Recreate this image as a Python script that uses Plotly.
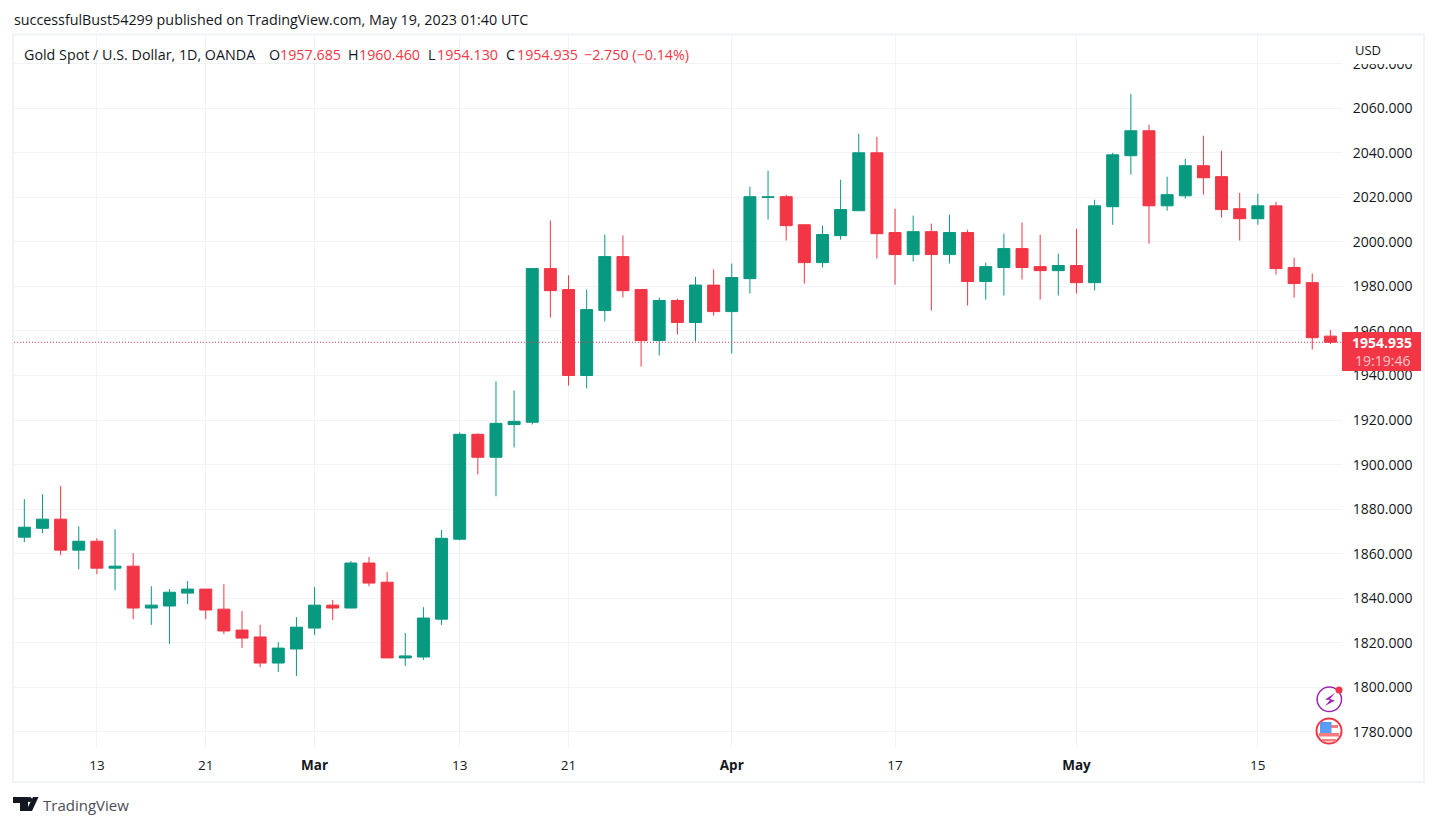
import plotly.graph_objects as go

W = 1437
H = 826

dates = ["2023-02-07", "2023-02-08", "2023-02-09", "2023-02-10", "2023-02-13", "2023-02-14", "2023-02-15", "2023-02-16",
         "2023-02-17", "2023-02-20", "2023-02-21", "2023-02-22", "2023-02-23", "2023-02-24", "2023-02-27", "2023-02-28",
         "2023-03-01", "2023-03-02", "2023-03-03", "2023-03-06", "2023-03-07", "2023-03-08", "2023-03-09", "2023-03-10",
         "2023-03-13", "2023-03-14", "2023-03-15", "2023-03-16", "2023-03-17", "2023-03-20", "2023-03-21", "2023-03-22",
         "2023-03-23", "2023-03-24", "2023-03-27", "2023-03-28", "2023-03-29", "2023-03-30", "2023-03-31", "2023-04-03",
         "2023-04-04", "2023-04-05", "2023-04-06", "2023-04-10", "2023-04-11", "2023-04-12", "2023-04-13", "2023-04-14",
         "2023-04-17", "2023-04-18", "2023-04-19", "2023-04-20", "2023-04-21", "2023-04-24", "2023-04-25", "2023-04-26",
         "2023-04-27", "2023-04-28", "2023-05-01", "2023-05-02", "2023-05-03", "2023-05-04", "2023-05-05", "2023-05-08",
         "2023-05-09", "2023-05-10", "2023-05-11", "2023-05-12", "2023-05-15", "2023-05-16", "2023-05-17", "2023-05-18",
         "2023-05-19"]

opens = [1867.4, 1871.4, 1875.5, 1861.6, 1865.6, 1853.5, 1854.4, 1835.6,
         1836.5, 1842.3, 1844.1, 1835.1, 1825.7, 1822.6, 1810.9, 1817.2,
         1826.6, 1836.9, 1835.6, 1855.8, 1847.2, 1813.2, 1813.6, 1830.6,
         1866.5, 1913.6, 1903.3, 1918.0, 1919.0, 1988.0, 1978.6, 1940.0,
         1969.2, 1993.4, 1978.6, 1955.7, 1973.7, 1963.8, 1980.6, 1968.7,
         1983.5, 2020.0, 2020.3, 2007.7, 1990.7, 2002.8, 2014.0, 2040.0,
         2004.2, 1994.3, 2004.6, 1994.3, 2004.2, 1982.2, 1988.5, 1997.0,
         1988.9, 1987.1, 1989.4, 1981.7, 2015.8, 2038.7, 2049.9, 2016.2,
         2020.7, 2034.2, 2029.3, 2014.9, 2010.4, 2016.2, 1988.5, 1981.7,
         1957.685]
highs = [1884.5, 1886.7, 1890.3, 1872.3, 1867.0, 1871.0, 1860.2, 1845.4,
         1844.1, 1847.7, 1844.1, 1846.3, 1834.2, 1828.0, 1820.3, 1831.5,
         1845.0, 1839.2, 1856.7, 1858.5, 1851.7, 1824.4, 1836.0, 1870.6,
         1914.5, 1914.0, 1937.3, 1933.3, 1988.0, 2009.6, 1985.0, 1978.6,
         2003.3, 2002.9, 1978.6, 1975.0, 1974.5, 1984.3, 1987.6, 1990.3,
         2024.8, 2032.0, 2021.2, 2007.7, 2007.3, 2027.9, 2048.6, 2047.2,
         2014.9, 2011.8, 2008.2, 2012.2, 2005.5, 1990.7, 2003.7, 2008.7,
         2003.2, 1994.7, 2005.9, 2018.9, 2040.0, 2066.5, 2052.6, 2029.3,
         2037.3, 2047.7, 2040.9, 2022.0, 2021.6, 2018.0, 1992.9, 1985.8,
         1960.46]
lows = [1865.2, 1869.2, 1859.3, 1853.1, 1850.8, 1843.6, 1830.6, 1828.0,
        1819.4, 1837.4, 1830.6, 1823.9, 1817.6, 1809.1, 1806.9, 1805.1,
        1823.5, 1830.2, 1835.6, 1845.4, 1813.2, 1809.6, 1812.3, 1828.0,
        1866.0, 1895.6, 1885.8, 1907.7, 1918.0, 1966.0, 1935.5, 1934.2,
        1964.3, 1975.0, 1944.0, 1949.0, 1958.4, 1955.3, 1966.9, 1949.9,
        1976.8, 2010.0, 2000.6, 1981.3, 1988.5, 2001.0, 2014.0, 1992.5,
        1980.8, 1991.2, 1969.2, 1990.3, 1971.4, 1974.1, 1975.9, 1983.1,
        1974.1, 1975.9, 1976.8, 1978.2, 2007.7, 2030.2, 1999.2, 2014.0,
        2019.4, 2021.2, 2010.9, 2000.6, 2007.7, 1985.3, 1975.0, 1951.7,
        1954.13]
closes = [1871.9, 1875.5, 1861.6, 1865.6, 1853.5, 1854.4, 1835.6, 1836.9,
          1842.7, 1844.1, 1834.7, 1825.3, 1822.1, 1810.9, 1817.6, 1827.0,
          1836.9, 1835.6, 1855.8, 1846.8, 1813.2, 1814.1, 1831.1, 1866.9,
          1913.6, 1903.3, 1918.5, 1919.4, 1988.0, 1978.1, 1940.0, 1969.6,
          1993.4, 1978.1, 1955.7, 1973.7, 1963.8, 1980.6, 1968.7, 1984.0,
          2020.3, 2020.2, 2007.3, 1990.7, 2003.3, 2014.5, 2040.0, 2003.7,
          1994.3, 2004.6, 1994.3, 2004.2, 1982.2, 1988.9, 1997.0, 1988.5,
          1987.1, 1989.4, 1981.7, 2016.2, 2039.1, 2049.9, 2016.2, 2021.2,
          2034.2, 2028.8, 2014.5, 2010.4, 2016.2, 1988.0, 1981.3, 1957.0,
          1954.935]

tick_dates = ["2023-02-13", "2023-02-21", "2023-03-01", "2023-03-13", "2023-03-21", "2023-04-03", "2023-04-17", "2023-05-01", "2023-05-15"]
tick_labels = ["13", "21", "<b>Mar</b>", "13", "21", "<b>Apr</b>", "17", "<b>May</b>", "15"]
price_ticks = [1780, 1800, 1820, 1840, 1860, 1880, 1900, 1920, 1940, 1960, 1980, 2000, 2020, 2040, 2060, 2080]

GREEN = "#089981"
RED = "#F23645"
GRID = "#F0F3FA"
TEXT = "#131722"
FONT = "Open Sans"


# all the furniture is placed in page pixels, on paper coordinates
def px(x):
    return x / W


def py(y):
    return 1 - y / H


def label(x, y, text, color=TEXT, size=14.3, anchor="left", opacity=1):
    fig.add_annotation(x=px(x), y=py(y), xref="paper", yref="paper", text=text, showarrow=False,
                       xanchor=anchor, yanchor="middle", borderpad=0, opacity=opacity,
                       font=dict(family=FONT, size=size, color=color))


def box(x0, y0, x1, y1, fill, line=None, width=0):
    fig.add_shape(type="rect", xref="paper", yref="paper", x0=px(x0), x1=px(x1), y0=py(y0), y1=py(y1),
                  fillcolor=fill, line=dict(color=line, width=width) if line else dict(width=0), layer="above")


def circle(cx, cy, r, fill, line=None, width=0):
    fig.add_shape(type="circle", xref="paper", yref="paper", x0=px(cx - r), x1=px(cx + r), y0=py(cy - r), y1=py(cy + r),
                  fillcolor=fill, line=dict(color=line, width=width) if line else dict(width=0), layer="above")


def poly(points, fill):
    path = "M " + " L ".join(f"{px(x):.5f},{py(y):.5f}" for x, y in points) + " Z"
    fig.add_shape(type="path", xref="paper", yref="paper", path=path, fillcolor=fill, line=dict(width=0), layer="above")


fig = go.Figure()

fig.add_trace(go.Candlestick(
    x=dates,
    open=opens,
    high=highs,
    low=lows,
    close=closes,
    whiskerwidth=0,
    increasing=dict(line=dict(color=GREEN, width=1), fillcolor=GREEN),
    decreasing=dict(line=dict(color=RED, width=1), fillcolor=RED),
))

fig.update_layout(
    width=W,
    height=H,
    margin=dict(l=0, r=0, t=0, b=0),
    paper_bgcolor="white",
    plot_bgcolor="white",
    showlegend=False,
    boxgap=0.34,
    boxgroupgap=0,
    font=dict(family=FONT, size=14, color=TEXT),
    xaxis=dict(
        type="category",
        domain=[px(14), px(1342)],
        range=[-0.57, 72.64],
        categoryorder="array",
        categoryarray=dates,
        rangeslider=dict(visible=False),
        tickmode="array",
        tickvals=tick_dates,
        ticktext=tick_labels,
        tickfont=dict(size=13.5),
        showgrid=True,
        gridcolor=GRID,
        gridwidth=1,
        zeroline=False,
        showline=False,
        ticks="outside",
        ticklen=6,
        tickcolor="white",
        tickangle=0,
    ),
    yaxis=dict(
        side="right",
        domain=[py(747), py(35)],
        range=[1773.2, 2092.9],
        tickmode="array",
        tickvals=price_ticks,
        tickformat=".3f",
        showgrid=True,
        gridcolor=GRID,
        gridwidth=1,
        zeroline=False,
        showline=False,
        ticks="outside",
        ticklen=7,
        tickcolor="white",
    ),
)

# last price line
fig.add_shape(type="line", xref="paper", yref="y", x0=px(14), x1=px(1342), y0=closes[-1], y1=closes[-1],
              line=dict(color=RED, width=1, dash="1px,2px"), layer="above")

# frame, and the white strip that cuts the top price label
box(1343, 36, 1423, 64, "white")
box(13, 34.5, 1424, 782, "rgba(0,0,0,0)", line=GRID, width=2)

# last price tag
box(1342, 332, 1421, 371, RED)
label(1382, 342.5, "<b>1954.935</b>", color="white", size=14, anchor="center")
label(1382, 360.5, "19:19:46", color="white", size=14, anchor="center", opacity=0.7)

label(1354, 50, "USD", size=13)
label(13, 19, "successfulBust54299 published on TradingView.com, May 19, 2023 01:40 UTC")

# ohlc header
label(23, 54, "Gold Spot / U.S. Dollar, 1D, OANDA")
label(268, 54, "O")
label(279, 54, "1957.685", color=RED)
label(347, 54, "H")
label(358, 54, "1960.460", color=RED)
label(427, 54, "L")
label(436, 54, "1954.130", color=RED)
label(505, 54, "C")
label(516, 54, "1954.935", color=RED)
label(583, 54, "\u22122.750 (\u22120.14%)", color=RED)

# TradingView logo
poly([(13, 797), (28, 797), (28, 811), (20, 811), (20, 803), (13, 803)], TEXT)
circle(29.5, 799.5, 2.5, TEXT)
poly([(33, 797), (38.5, 797), (32, 811), (26, 811)], TEXT)
label(42, 804.5, "TradingView", color="#4A4E58", size=15)

# earnings/news style icons in the corner of the pane
circle(1329.3, 699.3, 12.2, "white", line="#9C27B0", width=1.5)
poly([(1335, 693), (1325, 699.5), (1330, 700), (1325, 706), (1335, 700.5), (1330, 699)], "#9C27B0")
circle(1339, 690, 3.5, RED)
circle(1329, 731, 12.5, "white", line=RED, width=2)
box(1320, 725, 1338, 728, "#F77C80")
box(1319, 733, 1339, 736.5, "#F77C80")
box(1322, 739, 1336, 741.5, "#F77C80")
box(1320, 722, 1331.5, 733, "#5B9CF6")

fig.write_html("out.html", config=dict(displayModeBar=False),
               post_script="document.body.style.margin='0';document.body.style.overflow='hidden';")
